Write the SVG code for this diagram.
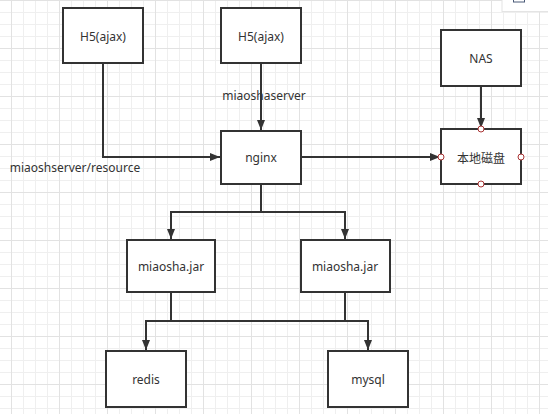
<svg xmlns="http://www.w3.org/2000/svg" width="548" height="414" viewBox="0 0 548 414">
<defs>
<pattern id="minor" x="11" y="0" width="12" height="12" patternUnits="userSpaceOnUse">
<path d="M0.5 0V12M0 0.5H12" stroke="#efefef" stroke-width="1" fill="none"/>
</pattern>
<pattern id="major" x="11" y="0" width="48" height="48" patternUnits="userSpaceOnUse">
<path d="M0.5 0V48M0 0.5H48" stroke="#e2e2e2" stroke-width="1" fill="none"/>
</pattern>
<marker id="arr" viewBox="0 0 10 8" refX="10" refY="4" markerWidth="10" markerHeight="8" markerUnits="userSpaceOnUse" orient="auto">
<path d="M0 0L10 4L0 8Z" fill="#333"/>
</marker>
</defs>
<style>
.box{fill:#fff;stroke:#333;stroke-width:2}
.lbl{font-family:"Noto Sans","Liberation Sans",sans-serif;font-size:12px;fill:#333;text-anchor:middle;dominant-baseline:central}
.edge{fill:none;stroke:#333;stroke-width:2;marker-end:url(#arr)}
.line{fill:none;stroke:#333;stroke-width:2}
.port{fill:#fff;stroke:#a33;stroke-width:1}
</style>
<rect width="548" height="414" fill="#fff"/>
<rect width="548" height="414" fill="url(#minor)"/>
<rect width="548" height="414" fill="url(#major)"/>
<g id="panel">
<rect x="502" y="-2" width="50" height="13.5" fill="#fff" stroke="#e4e4e4" stroke-width="1"/>
<rect x="513.5" y="-3" width="11" height="5" fill="#fff" stroke="#4a5a78" stroke-width="1"/>
</g>
<g id="connectors">
<path class="edge" d="M103 63V157H220"/>
<path class="edge" d="M261 63V130"/>
<path class="edge" d="M301 157H440"/>
<path class="edge" d="M481 86V128"/>
<path class="line" d="M261 184V212"/>
<path class="edge" d="M261 212H171V239"/>
<path class="edge" d="M261 212H345V239"/>
<path class="line" d="M171 292V321"/>
<path class="line" d="M345 292V321"/>
<path class="edge" d="M171 321H146V350"/>
<path class="edge" d="M345 321H368V350"/>
<path class="line" d="M171 321H345"/>
</g>
<g id="label-miaoshaserver"><text class="lbl" x="264" y="95">miaoshaserver</text></g>
<g id="label-resource"><text class="lbl" x="75" y="167">miaoshserver/resource</text></g>
<g id="h5a"><rect class="box" x="63" y="8" width="80" height="55"/><text class="lbl" x="103" y="36">H5(ajax)</text></g>
<g id="h5b"><rect class="box" x="221" y="8" width="80" height="55"/><text class="lbl" x="261" y="36">H5(ajax)</text></g>
<g id="nas"><rect class="box" x="441" y="30" width="80" height="56"/><text class="lbl" x="481" y="58">NAS</text></g>
<g id="nginx"><rect class="box" x="221" y="131" width="80" height="53"/><text class="lbl" x="261" y="157">nginx</text></g>
<g id="disk"><rect class="box" x="441" y="129" width="80" height="55"/><text class="lbl" x="481" y="157" style="font-family:'Noto Sans CJK SC','Noto Sans',sans-serif">本地磁盘</text>
<circle class="port" cx="481" cy="129" r="3"/><circle class="port" cx="441" cy="157" r="3"/><circle class="port" cx="521" cy="157" r="3"/><circle class="port" cx="481" cy="184" r="3"/></g>
<g id="jar1"><rect class="box" x="127" y="240" width="88" height="52"/><text class="lbl" x="171" y="266">miaosha.jar</text></g>
<g id="jar2"><rect class="box" x="301" y="240" width="89" height="52"/><text class="lbl" x="345" y="266">miaosha.jar</text></g>
<g id="redis"><rect class="box" x="106" y="351" width="80" height="56"/><text class="lbl" x="146" y="379">redis</text></g>
<g id="mysql"><rect class="box" x="328" y="351" width="80" height="56"/><text class="lbl" x="368" y="379">mysql</text></g>
</svg>
